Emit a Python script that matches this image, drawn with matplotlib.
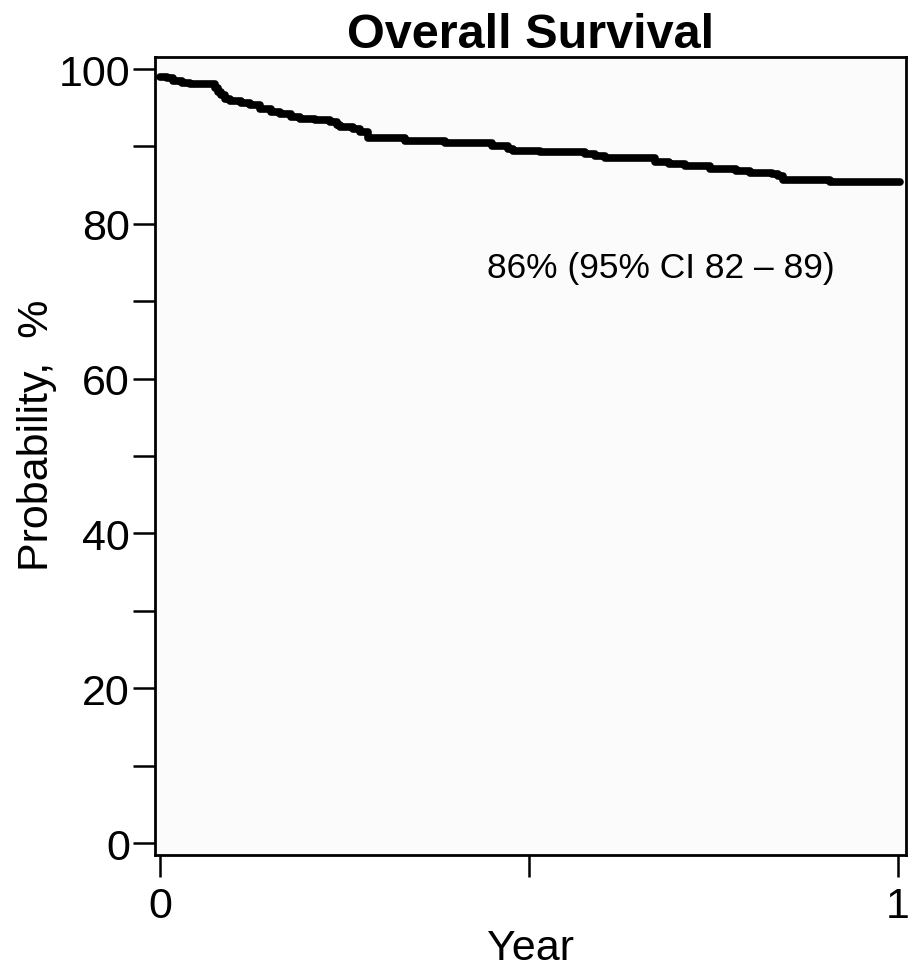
import matplotlib
matplotlib.use("Agg")
import matplotlib.pyplot as plt
from matplotlib.ticker import MultipleLocator

plt.rcParams["font.family"] = ["Liberation Sans", "DejaVu Sans"]

# Kaplan-Meier step points (year, survival %)
years = [0.000, 0.010, 0.018, 0.030, 0.041, 0.075, 0.078, 0.082, 0.088, 0.095,
         0.110, 0.122, 0.136, 0.150, 0.163, 0.178, 0.190, 0.210, 0.230, 0.240,
         0.244, 0.262, 0.271, 0.282, 0.332, 0.386, 0.450, 0.472, 0.479, 0.515,
         0.576, 0.590, 0.603, 0.671, 0.690, 0.711, 0.745, 0.780, 0.799, 0.830,
         0.837, 0.844, 0.908, 1.003]
survival = [99.0, 98.8, 98.4, 98.2, 98.1, 97.6, 97.0, 96.6, 96.1, 95.9,
            95.6, 95.3, 94.8, 94.5, 94.2, 93.8, 93.6, 93.4, 93.2, 92.8,
            92.5, 92.2, 91.9, 91.1, 90.7, 90.4, 90.1, 89.7, 89.4, 89.3,
            89.0, 88.7, 88.5, 88.0, 87.7, 87.5, 87.1, 86.8, 86.6, 86.4,
            86.2, 85.7, 85.4, 85.4]

annotation = "86% (95% CI 82 \u2013 89)"
title = "Overall Survival"

fig = plt.figure(figsize=(9.12, 9.70), dpi=100)
ax = fig.add_axes([0.170, 0.1175, 0.8234, 0.8227])
ax.set_facecolor("#fbfbfb")

ax.step(years, survival, where="post", color="black", linewidth=5.5,
        solid_joinstyle="round", solid_capstyle="round")

ax.set_xlim(-0.0068, 1.011)
ax.set_ylim(-1.55, 101.55)
ax.set_xticks([0, 0.5, 1])
ax.set_xticklabels(["0", "", "1"])
ax.yaxis.set_major_locator(MultipleLocator(20))
ax.yaxis.set_minor_locator(MultipleLocator(10))
ax.tick_params(axis="both", which="both", length=16, width=1.8, labelsize=31,
               direction="out")
ax.tick_params(axis="y", which="both", pad=2)
ax.tick_params(axis="x", which="both", pad=6)

for sp in ax.spines.values():
    sp.set_linewidth(2)

ax.text(0.679, 74.4, annotation, fontsize=25.5, ha="center", va="center")
ax.set_title(title, fontsize=35, fontweight="bold", pad=4)
ax.set_ylabel("Probability,  %", fontsize=31)
ax.yaxis.set_label_coords(-0.131, 0.527)
ax.set_xlabel("Year", fontsize=31, labelpad=2)

fig.savefig("out.png", dpi=100, facecolor="white")
